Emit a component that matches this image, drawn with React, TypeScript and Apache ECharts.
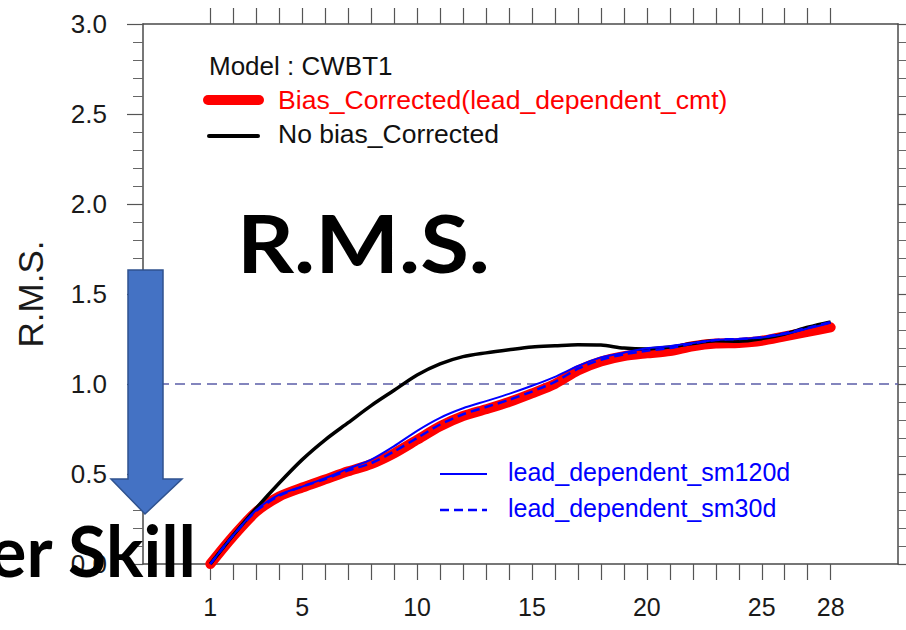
import React, { useEffect, useRef } from "react";
import * as echarts from "echarts";

const days = [1, 2, 3, 4, 5, 6, 7, 8, 9, 10, 11, 12, 13, 14, 15, 16, 17, 18, 19, 20, 21, 22, 23, 24, 25, 26, 27, 28];
const xLabelDays = [1, 5, 10, 15, 20, 25, 28];

const biasCorrected = [0.0, 0.155, 0.29, 0.375, 0.425, 0.47, 0.515, 0.555, 0.615, 0.69, 0.765, 0.822, 0.86, 0.9, 0.948, 1.0, 1.075, 1.125, 1.155, 1.17, 1.183, 1.21, 1.225, 1.228, 1.24, 1.265, 1.29, 1.315];
const noBias = [0.0, 0.16, 0.31, 0.45, 0.58, 0.69, 0.785, 0.88, 0.965, 1.05, 1.112, 1.152, 1.173, 1.19, 1.205, 1.212, 1.218, 1.216, 1.2, 1.195, 1.205, 1.225, 1.24, 1.238, 1.252, 1.278, 1.315, 1.345];
const sm120d = [0.0, 0.16, 0.3, 0.385, 0.43, 0.477, 0.53, 0.58, 0.655, 0.74, 0.812, 0.865, 0.905, 0.945, 0.99, 1.04, 1.1, 1.148, 1.174, 1.198, 1.21, 1.228, 1.245, 1.25, 1.258, 1.278, 1.308, 1.34];
const sm30d = [0.0, 0.16, 0.295, 0.38, 0.43, 0.472, 0.52, 0.56, 0.625, 0.7, 0.775, 0.832, 0.872, 0.912, 0.958, 1.012, 1.085, 1.135, 1.165, 1.185, 1.2, 1.225, 1.245, 1.25, 1.26, 1.282, 1.312, 1.345];

const yTicks = { min: 0, max: 3, interval: 0.5 };
const refLevel = 1.0;

const pair = (vals: number[]) => days.map((d, i) => [d, vals[i]]);

export default function App() {
  const ref = useRef<HTMLDivElement>(null);
  useEffect(() => {
    document.body.style.margin = "0";
    const chart = echarts.init(ref.current!, null, { renderer: "svg" });
    const axisColor = "#4a4a4a";
    const font = "Liberation Sans";
    const xCommon = {
      type: "value",
      min: -1.93,
      max: 30.93,
      splitLine: { show: false },
      axisLine: { show: true, onZero: false, lineStyle: { color: axisColor, width: 1.5 } },
      axisTick: { show: true, inside: false, length: 16, customValues: days, lineStyle: { color: "#555", width: 1.2 } },
    };
    const yCommon = {
      type: "value",
      min: yTicks.min,
      max: yTicks.max,
      interval: yTicks.interval,
      splitLine: { show: false },
      axisLine: { show: true, onZero: false, lineStyle: { color: axisColor, width: 1.5 } },
      axisTick: { show: true, inside: false, length: 16, lineStyle: { color: "#555", width: 1.2 } },
      minorTick: { show: true, splitNumber: 5, length: 10, lineStyle: { color: "#666", width: 1 } },
    };
    chart.setOption({
      animation: false,
      backgroundColor: "#ffffff",
      grid: { left: 143, top: 24, width: 755, height: 540, containLabel: false },
      xAxis: [
        {
          ...xCommon,
          position: "bottom",
          axisLabel: { customValues: xLabelDays, margin: 30, fontSize: 25, color: "#1a1a1a", fontFamily: font },
        },
        { ...xCommon, position: "top", axisLabel: { show: false } },
      ],
      yAxis: [
        {
          ...yCommon,
          position: "left",
          axisLabel: { margin: 36, fontSize: 26, color: "#1a1a1a", fontFamily: font, formatter: (v: number) => v.toFixed(1) },
        },
        { ...yCommon, position: "right", axisLabel: { show: false } },
      ],
      series: [
        {
          name: "Bias_Corrected(lead_dependent_cmt)",
          type: "line",
          data: pair(biasCorrected),
          symbol: "none",
          smooth: 0.25,
          lineStyle: { color: "#ff0000", width: 10, cap: "round", join: "round" },
          z: 2,
          markLine: {
            silent: true,
            symbol: ["none", "none"],
            label: { show: false },
            lineStyle: { color: "#5b5ea8", type: [10, 6], width: 1.5 },
            data: [{ yAxis: refLevel }],
            z: 1,
          },
        },
        {
          name: "No bias_Corrected",
          type: "line",
          data: pair(noBias),
          symbol: "none",
          smooth: 0.3,
          lineStyle: { color: "#000000", width: 3.5 },
          z: 3,
        },
        {
          name: "lead_dependent_sm120d",
          type: "line",
          data: pair(sm120d),
          symbol: "none",
          smooth: 0.25,
          lineStyle: { color: "#0000ff", width: 2 },
          z: 4,
        },
        {
          name: "lead_dependent_sm30d",
          type: "line",
          data: pair(sm30d),
          symbol: "none",
          smooth: 0.25,
          lineStyle: { color: "#0000ff", width: 2.5, type: [9, 5] },
          z: 5,
        },
      ],
      graphic: [
        {
          type: "text",
          x: 30,
          y: 294,
          rotation: Math.PI / 2,
          style: { text: "R.M.S.", fontSize: 35, fontFamily: font, fill: "#1a1a1a", align: "center", verticalAlign: "middle" },
        },
        {
          type: "text",
          x: 209,
          y: 66,
          style: { text: "Model : CWBT1", fontSize: 26, fontFamily: font, fill: "#111", align: "left", verticalAlign: "middle" },
        },
        {
          type: "line",
          shape: { x1: 208, y1: 100, x2: 259, y2: 100 },
          style: { stroke: "#ff0000", lineWidth: 10, lineCap: "round" },
        },
        {
          type: "text",
          x: 278,
          y: 100,
          style: { text: "Bias_Corrected(lead_dependent_cmt)", fontSize: 26.6, fontFamily: font, fill: "#ff0000", align: "left", verticalAlign: "middle" },
        },
        {
          type: "line",
          shape: { x1: 209, y1: 136, x2: 258, y2: 136 },
          style: { stroke: "#000000", lineWidth: 4, lineCap: "round" },
        },
        {
          type: "text",
          x: 278,
          y: 134,
          style: { text: "No bias_Corrected", fontSize: 26.5, fontFamily: font, fill: "#111", align: "left", verticalAlign: "middle" },
        },
        {
          type: "line",
          shape: { x1: 440, y1: 474, x2: 487, y2: 474 },
          style: { stroke: "#0000ff", lineWidth: 2 },
        },
        {
          type: "text",
          x: 508,
          y: 472,
          style: { text: "lead_dependent_sm120d", fontSize: 25, fontFamily: font, fill: "#0000ff", align: "left", verticalAlign: "middle" },
        },
        {
          type: "line",
          shape: { x1: 440, y1: 510, x2: 487, y2: 510 },
          style: { stroke: "#0000ff", lineWidth: 2.5, lineDash: [9, 5] },
        },
        {
          type: "text",
          x: 508,
          y: 508,
          style: { text: "lead_dependent_sm30d", fontSize: 25, fontFamily: font, fill: "#0000ff", align: "left", verticalAlign: "middle" },
        },
        {
          type: "text",
          x: 237,
          y: 242,
          scaleX: 1.11,
          z: 100,
          style: { text: "R.M.S.", fontSize: 80, fontWeight: "bold", fontFamily: "Lato", fill: "#000", align: "left", verticalAlign: "middle" },
        },
        {
          type: "polygon",
          z: 100,
          shape: { points: [[128, 270], [163, 270], [163, 479], [182, 479], [145, 514], [111, 479], [128, 479]] },
          style: { fill: "#4472c4", stroke: "#2f528f", lineWidth: 1.5 },
        },
        {
          type: "text",
          x: 196,
          y: 550,
          z: 101,
          style: { text: "Lower Skill", fontSize: 70, fontWeight: "bold", fontFamily: "Lato", fill: "#000", align: "right", verticalAlign: "middle" },
        },
      ],
    });
    return () => chart.dispose();
  }, []);
  return <div ref={ref} style={{ position: "absolute", left: 0, top: 0, width: 906, height: 630 }} />;
}
